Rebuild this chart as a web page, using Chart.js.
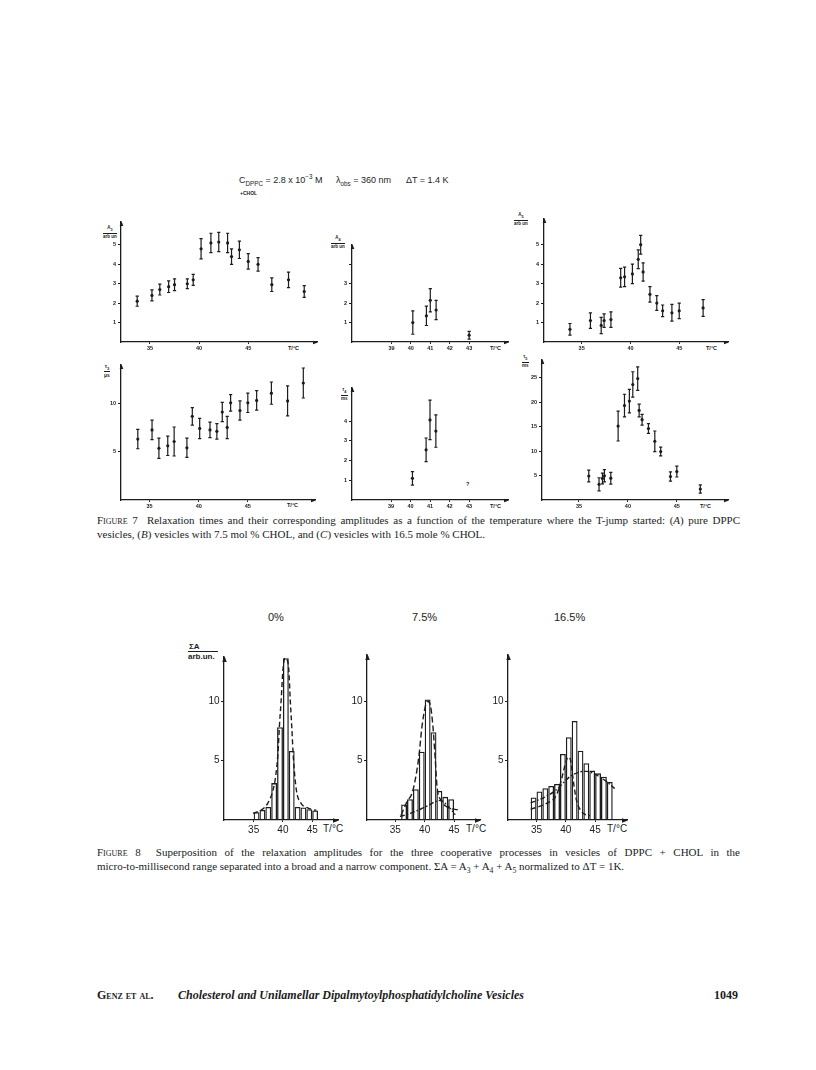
<!DOCTYPE html>
<html>
<head>
<meta charset="utf-8">
<title>Genz et al. - Figures 7 and 8</title>
<script src="https://cdn.jsdelivr.net/npm/chart.js@4.4.1/dist/chart.umd.min.js"></script>
<style>
  html, body { margin: 0; padding: 0; background: #fff; }
  body { position: relative; width: 816px; height: 1070px; overflow: hidden; color: #1c1c1c;
         font-family: "Liberation Sans", Arial, sans-serif; }
  .t { position: absolute; white-space: nowrap; line-height: 1; }
  .t sub, .t sup { font-size: 70%; line-height: 0; }
  canvas { position: absolute; }
  .frac { position: absolute; line-height: 1.05; font-weight: bold; text-align: center; }
  .frac .d { border-top: 1px solid #1c1c1c; padding-top: 1px; }
  .cap { position: absolute; left: 97px; width: 643px; line-height: 1;
         font-family: "Liberation Serif", "Times New Roman", serif; font-size: 11px; white-space: nowrap; }
  .cap.j { text-align: justify; text-align-last: justify; white-space: normal; }
  .sc { font-variant: small-caps; }
  .foot { position: absolute; top: 988px; font-family: "Liberation Serif", serif; font-weight: bold; font-size: 12px; white-space: nowrap; }
</style>
</head>
<body>

<!-- Figure 7 header -->
<div class="t" style="left:239px;top:176px;font-size:9px">C<sub>DPPC</sub> = 2.8 x 10<sup>−3</sup> M</div>
<div class="t" style="left:336px;top:176px;font-size:9px">λ<sub>obs</sub> = 360 nm</div>
<div class="t" style="left:406px;top:176px;font-size:9px">ΔT = 1.4 K</div>
<div class="t" style="left:240px;top:191px;font-size:5px;font-weight:bold">+CHOL</div>

<!-- axis labels, figure 7 -->
<div class="frac" style="left:103px;top:226px;font-size:4.5px"><div>A<sub>3</sub></div><div class="d">arb un</div></div>
<div class="frac" style="left:331px;top:236px;font-size:4.5px"><div>A<sub>4</sub></div><div class="d">arb un</div></div>
<div class="frac" style="left:514px;top:213px;font-size:4.5px"><div>A<sub>5</sub></div><div class="d">arb un</div></div>
<div class="frac" style="left:104px;top:364px;font-size:5px"><div>τ<sub>3</sub></div><div class="d">μs</div></div>
<div class="frac" style="left:341px;top:388px;font-size:4.5px"><div>τ<sub>4</sub></div><div class="d">ms</div></div>
<div class="frac" style="left:522px;top:355px;font-size:4.5px"><div>τ<sub>5</sub></div><div class="d">ms</div></div>

<div class="t" style="left:288px;top:346px;font-size:5.5px;font-weight:bold">T/°C</div>
<div class="t" style="left:490px;top:346px;font-size:5.5px;font-weight:bold">T/°C</div>
<div class="t" style="left:706px;top:346px;font-size:5.5px;font-weight:bold">T/°C</div>
<div class="t" style="left:287px;top:503px;font-size:5.5px;font-weight:bold">T/°C</div>
<div class="t" style="left:490px;top:504px;font-size:5.5px;font-weight:bold">T/°C</div>
<div class="t" style="left:700px;top:504px;font-size:5.5px;font-weight:bold">T/°C</div>
<div class="t" style="left:466px;top:482px;font-size:5.5px;font-weight:bold">?</div>

<canvas id="cA3"></canvas>
<canvas id="cA4"></canvas>
<canvas id="cA5"></canvas>
<canvas id="cT3"></canvas>
<canvas id="cT4"></canvas>
<canvas id="cT5"></canvas>

<div class="cap j" style="top:515px"><span class="sc">Figure 7</span>&nbsp; Relaxation times and their corresponding amplitudes as a function of the temperature where the T-jump started: (<i>A</i>) pure DPPC</div>
<div class="cap" style="top:529px">vesicles, (<i>B</i>) vesicles with 7.5 mol % CHOL, and (<i>C</i>) vesicles with 16.5 mole % CHOL.</div>

<!-- Figure 8 -->
<div class="t" style="left:268px;top:612px;font-size:11px">0%</div>
<div class="t" style="left:412px;top:612px;font-size:11px">7.5%</div>
<div class="t" style="left:554px;top:612px;font-size:11px">16.5%</div>
<div class="frac" style="left:188px;top:643px;font-size:8px;text-align:left"><div style="padding-left:1px">ΣA</div><div class="d" style="padding-right:3px">arb.un.</div></div>
<div class="t" style="left:323px;top:824px;font-size:10px">T/°C</div>
<div class="t" style="left:466px;top:824px;font-size:10px">T/°C</div>
<div class="t" style="left:607px;top:824px;font-size:10px">T/°C</div>

<canvas id="cS0"></canvas>
<canvas id="cS7"></canvas>
<canvas id="cS16"></canvas>

<div class="cap j" style="top:847px"><span class="sc">Figure 8</span>&nbsp; Superposition of the relaxation amplitudes for the three cooperative processes in vesicles of DPPC + CHOL in the</div>
<div class="cap" style="top:861px">micro-to-millisecond range separated into a broad and a narrow component. ΣA = A<sub style="font-size:70%">3</sub> + A<sub style="font-size:70%">4</sub> + A<sub style="font-size:70%">5</sub> normalized to ΔT = 1K.</div>

<div class="foot" style="left:97px"><span class="sc">Genz et al.</span></div>
<div class="foot" style="left:178px;font-style:italic">Cholesterol and Unilamellar Dipalmytoylphosphatidylcholine Vesicles</div>
<div class="foot" style="left:714px">1049</div>

<script>
const INK = '#1c1c1c';

// ---- Figure 7 (A): pure DPPC ----
const a3Temp = [33.7, 35.2, 36.0, 36.9, 37.5, 38.8, 39.4, 40.2, 41.2, 42.0, 42.9, 43.3, 44.1, 45.0, 46.0, 47.4, 49.1, 50.7];
const a3Amp  = [2.1, 2.4, 2.7, 2.85, 2.95, 3.0, 3.2, 4.8, 5.1, 5.15, 5.1, 4.4, 4.75, 4.15, 4.0, 2.95, 3.2, 2.6];
const a3Err  = [0.26, 0.28, 0.28, 0.3, 0.3, 0.25, 0.28, 0.52, 0.5, 0.5, 0.5, 0.4, 0.45, 0.4, 0.35, 0.35, 0.4, 0.3];

const t3Temp = [33.8, 35.25, 35.95, 36.85, 37.5, 38.8, 39.35, 40.1, 41.15, 41.85, 42.4, 42.9, 43.25, 44.2, 45.0, 45.9, 47.4, 49.05, 50.65];
const t3Time = [6.3, 7.25, 5.35, 5.6, 6.05, 5.4, 8.65, 7.4, 7.25, 7.1, 9.1, 7.5, 10.05, 9.25, 10.05, 10.3, 11.05, 10.25, 12.1];
const t3Err  = [1.0, 1.0, 1.05, 1.0, 1.5, 1.0, 0.9, 1.05, 0.8, 0.8, 1.0, 1.15, 0.85, 1.0, 1.0, 1.0, 1.15, 1.55, 1.55];

// ---- Figure 7 (B): 7.5 mol % CHOL ----
const a4Temp = [40.1, 40.8, 41.0, 41.3, 43.0];
const a4Amp  = [1.0, 1.35, 2.15, 1.65, 0.35];
const a4Err  = [0.6, 0.5, 0.6, 0.5, 0.2];

const t4Temp = [40.1, 40.8, 41.0, 41.3];
const t4Time = [1.1, 2.55, 4.07, 3.5];
const t4Err  = [0.34, 0.6, 1.0, 0.82];

// ---- Figure 7 (C): 16.5 mol % CHOL ----
const a5Temp = [33.8, 35.9, 37.0, 37.3, 38.0, 39.0, 39.4, 40.2, 40.8, 41.05, 41.3, 42.0, 42.7, 43.3, 44.25, 45.0, 47.45];
const a5Amp  = [0.65, 1.1, 0.85, 1.1, 1.15, 3.3, 3.35, 3.5, 4.25, 5.0, 3.6, 2.45, 2.0, 1.6, 1.5, 1.6, 1.75];
const a5Err  = [0.3, 0.4, 0.42, 0.35, 0.4, 0.48, 0.5, 0.5, 0.48, 0.48, 0.47, 0.4, 0.38, 0.3, 0.43, 0.4, 0.43];

const t5Temp = [36.0, 37.05, 37.4, 37.6, 38.25, 39.0, 39.65, 40.15, 40.5, 41.0, 41.15, 41.45, 42.1, 42.75, 43.35, 44.35, 45.0, 47.4];
const t5Time = [4.9, 3.2, 4.4, 4.95, 4.45, 15.1, 19.3, 20.2, 23.6, 24.8, 18.3, 16.4, 14.6, 12.0, 9.9, 4.8, 5.8, 2.25];
const t5Err  = [1.2, 1.35, 1.1, 1.25, 1.2, 3.05, 2.3, 2.4, 2.6, 2.4, 1.3, 1.1, 1.0, 2.1, 0.9, 0.95, 1.1, 0.85];

// ---- Figure 8: summed amplitudes, 1 K bins (left edges) ----
const sum0Edges   = [35, 36, 37, 38, 39, 40, 41, 42, 43, 44, 45];
const sum0Heights = [0.65, 0.85, 1.1, 3.1, 7.8, 13.6, 5.8, 1.1, 1.05, 0.9, 0.8];
const sum7Edges   = [36, 37, 38, 39, 40, 41, 42, 43, 44];
const sum7Heights = [1.3, 1.75, 2.6, 5.75, 10.15, 7.4, 2.45, 1.95, 1.75];
const sum16Edges   = [34, 35, 36, 37, 38, 39, 40, 41, 42, 43, 44, 45, 46, 47];
const sum16Heights = [1.9, 2.4, 2.67, 2.87, 3.03, 5.56, 6.97, 8.34, 5.84, 4.78, 4.16, 3.93, 3.65, 3.2];

// fitted components
const narrow0Temp = [34.9, 36.3, 37.4, 38.3, 38.75, 39.15, 39.4, 39.7, 40.0, 40.35, 40.7, 41.0, 41.25, 41.5, 41.8, 42.3, 43.1, 44.3, 45.7];
const narrow0Val  = [0.56, 0.84, 1.4, 2.5, 3.65, 5.6, 7.9, 10.1, 12.6, 13.6, 13.5, 12.6, 10.1, 7.9, 5.1, 2.5, 1.4, 1.0, 0.8];
const narrow7Temp = [36.0, 37.0, 37.85, 38.4, 39.0, 39.55, 40.1, 40.5, 40.95, 41.4, 41.8, 42.1, 42.7, 43.8, 45.8];
const narrow7Val  = [0.4, 1.55, 2.25, 3.4, 5.3, 7.9, 9.55, 10.0, 9.7, 7.9, 5.05, 2.8, 1.7, 1.1, 0.84];
const broad7Temp  = [35.8, 37.5, 39.0, 40.5, 41.8, 42.7, 43.8, 45.2];
const broad7Val   = [0.3, 0.55, 0.85, 1.2, 1.55, 1.65, 1.25, 0.45];
const narrow16Temp = [34.0, 36.7, 38.4, 39.25, 39.85, 40.4, 40.8, 41.25, 41.8, 42.7, 44.1];
const narrow16Val  = [0.9, 1.4, 2.1, 3.4, 4.6, 5.3, 5.05, 3.4, 1.7, 0.7, 0.35];
const broad16Temp  = [34.0, 36.1, 38.4, 40.7, 42.4, 43.5, 45.2, 46.9, 48.35];
const broad16Val   = [1.45, 1.85, 2.55, 3.65, 4.05, 4.1, 3.8, 3.25, 2.65];

// tick values
const wideTempTicks = [35, 40, 45];
const narrowTempTicks = [39, 40, 41, 42, 43];
const ampTicks = [1, 2, 3, 4, 5];
const a4AmpTicks = [1, 2, 3, 4];
const a4AmpLabels = ['1', '2', '3', ''];
const t3Ticks = [5, 10];
const t4Ticks = [1, 2, 3, 4];
const t5Ticks = [5, 10, 15, 20, 25];
const sumTicks = [5, 10];

// --- helpers ---
const pts = (xs, ys) => xs.map((x, i) => ({ x: x, y: ys[i] }));

const arrowHeads = {
  id: 'arrowHeads',
  afterDraw(chart, args, opts) {
    const a = chart.chartArea, ctx = chart.ctx, s = opts.size || 4;
    ctx.save();
    ctx.fillStyle = INK;
    ctx.beginPath();
    ctx.moveTo(a.left + 0.5, a.top - 1);
    ctx.lineTo(a.left + 0.5 - s * 0.45, a.top + s);
    ctx.lineTo(a.left + 0.5 + s * 0.45, a.top + s);
    ctx.fill();
    ctx.beginPath();
    ctx.moveTo(a.right + 1, a.bottom + 0.5);
    ctx.lineTo(a.right - s, a.bottom + 0.5 - s * 0.45);
    ctx.lineTo(a.right - s, a.bottom + 0.5 + s * 0.45);
    ctx.fill();
    ctx.restore();
  }
};

const errorBars = {
  id: 'errorBars',
  afterDatasetsDraw(chart) {
    const ctx = chart.ctx, xs = chart.scales.x, ys = chart.scales.y;
    chart.data.datasets.forEach(ds => {
      if (!ds.errs) return;
      ctx.save();
      ctx.strokeStyle = INK;
      ctx.lineWidth = 1.2;
      ds.data.forEach((p, i) => {
        const x = xs.getPixelForValue(p.x), e = ds.errs[i];
        const y1 = ys.getPixelForValue(p.y + e), y2 = ys.getPixelForValue(p.y - e);
        ctx.beginPath();
        ctx.moveTo(x, y1); ctx.lineTo(x, y2);
        ctx.moveTo(x - 1.6, y1); ctx.lineTo(x + 1.6, y1);
        ctx.moveTo(x - 1.6, y2); ctx.lineTo(x + 1.6, y2);
        ctx.stroke();
      });
      ctx.restore();
    });
  }
};

function errSeries(xs, ys, es) {
  return { type: 'scatter', data: pts(xs, ys), errs: es, pointRadius: 1.6,
           pointBackgroundColor: INK, pointBorderWidth: 0, showLine: false };
}
function histSeries(edges, heights) {
  return { type: 'bar', data: edges.map((e, i) => ({ x: e + 0.5, y: heights[i] })),
           backgroundColor: 'rgba(255,255,255,0)', borderColor: INK, borderWidth: 1.3, inflateAmount: 0,
           barPercentage: 1, categoryPercentage: 1, order: 2 };
}
function curveSeries(xs, ys, dash) {
  return { type: 'line', data: pts(xs, ys), borderColor: INK, borderWidth: 1.4, borderDash: dash,
           pointRadius: 0, fill: false, cubicInterpolationMode: 'monotone', order: 1 };
}

function drawPanel(id, g, datasets, o) {
  const L = o.padL, T = 6, R = 6, B = o.padB;
  const w = g.xEnd - g.x0 + L + R, h = g.y0 - g.yTop + T + B;
  const cv = document.getElementById(id);
  cv.style.left = (g.x0 - L) + 'px';
  cv.style.top = (g.yTop - T) + 'px';
  cv.width = w; cv.height = h;
  cv.style.width = w + 'px'; cv.style.height = h + 'px';
  const font = { family: 'Liberation Sans', size: o.font, weight: o.bold ? 'bold' : 'normal' };
  return new Chart(cv, {
    type: o.type,
    data: { datasets: datasets },
    options: {
      responsive: false, animation: false, devicePixelRatio: 1,
      layout: { padding: { left: 0, top: T, right: R, bottom: 0 } },
      plugins: { legend: { display: false }, tooltip: { enabled: false }, arrowHeads: { size: o.arrow } },
      scales: {
        x: {
          type: 'linear', min: g.xMin, max: g.xMax, offset: false,
          afterBuildTicks: s => { s.ticks = o.xTicks.map(v => ({ value: v })); },
          afterFit: s => { s.height = B; s.paddingLeft = 0; s.paddingRight = 0; },
          grid: { display: true, drawOnChartArea: false, tickLength: o.xTickLen, color: INK, lineWidth: 1, offset: false },
          border: { display: true, color: INK, width: o.axisW },
          ticks: { color: INK, font: font, padding: o.xPad, maxRotation: 0, autoSkip: false,
                   callback: v => String(v) }
        },
        y: {
          type: 'linear', min: 0, max: g.yMax,
          afterBuildTicks: s => { s.ticks = o.yTicks.map(v => ({ value: v })); },
          afterFit: s => { s.width = L; s.paddingTop = 0; s.paddingBottom = 0; },
          grid: { display: true, drawOnChartArea: false, tickLength: 3, color: INK, lineWidth: 1 },
          border: { display: true, color: INK, width: o.axisW },
          ticks: { color: INK, font: font, padding: o.yPad, autoSkip: false,
                   callback: (v, i) => o.yLabels ? o.yLabels[i] : String(v) }
        }
      }
    },
    plugins: [arrowHeads, errorBars]
  });
}

const fig7Opts = { type: 'scatter', padL: 20, padB: 14, font: 5.5, bold: true, xTickLen: 2, xPad: 1.5, yPad: 2, axisW: 1.3, arrow: 4 };
const fig8Opts = { type: 'bar', padL: 28, padB: 18, font: 10, bold: false, xTickLen: 2, xPad: 2, yPad: 1.5, axisW: 1.3, arrow: 5, yTicks: sumTicks, xTicks: wideTempTicks };

// Figure 7 panels
drawPanel('cA3', { x0: 121, y0: 342, xEnd: 317, yTop: 222, xMin: 32.05, xMax: 52.0, yMax: 6.18 },
  [errSeries(a3Temp, a3Amp, a3Err)], Object.assign({}, fig7Opts, { xTicks: wideTempTicks, yTicks: ampTicks }));
drawPanel('cA4', { x0: 352, y0: 342, xEnd: 508, yTop: 245, xMin: 36.97, xMax: 45.0, yMax: 5.0 },
  [errSeries(a4Temp, a4Amp, a4Err)], Object.assign({}, fig7Opts, { xTicks: narrowTempTicks, yTicks: a4AmpTicks, yLabels: a4AmpLabels }));
drawPanel('cA5', { x0: 544, y0: 342, xEnd: 728, yTop: 219, xMin: 31.14, xMax: 50.0, yMax: 6.32 },
  [errSeries(a5Temp, a5Amp, a5Err)], Object.assign({}, fig7Opts, { xTicks: wideTempTicks, yTicks: ampTicks }));
drawPanel('cT3', { x0: 121, y0: 500, xEnd: 315, yTop: 365, xMin: 32.09, xMax: 51.84, yMax: 13.96 },
  [errSeries(t3Temp, t3Time, t3Err)], Object.assign({}, fig7Opts, { xTicks: wideTempTicks, yTicks: t3Ticks }));
drawPanel('cT4', { x0: 352, y0: 500, xEnd: 508, yTop: 388, xMin: 37.0, xMax: 45.0, yMax: 5.69 },
  [errSeries(t4Temp, t4Time, t4Err)], Object.assign({}, fig7Opts, { xTicks: narrowTempTicks, yTicks: t4Ticks }));
drawPanel('cT5', { x0: 542, y0: 500, xEnd: 728, yTop: 360, xMin: 31.22, xMax: 50.23, yMax: 28.6 },
  [errSeries(t5Temp, t5Time, t5Err)], Object.assign({}, fig7Opts, { xTicks: wideTempTicks, yTicks: t5Ticks }));

// Figure 8 panels
drawPanel('cS0', { x0: 224, y0: 820, xEnd: 338, yTop: 657, xMin: 29.94, xMax: 49.4, yMax: 13.7 },
  [histSeries(sum0Edges, sum0Heights), curveSeries(narrow0Temp, narrow0Val, [5, 3])], fig8Opts);
drawPanel('cS7', { x0: 367, y0: 820, xEnd: 480, yTop: 655, xMin: 30.2, xMax: 49.4, yMax: 13.9 },
  [histSeries(sum7Edges, sum7Heights), curveSeries(narrow7Temp, narrow7Val, [6, 3]), curveSeries(broad7Temp, broad7Val, [5, 2, 1.5, 2])], fig8Opts);
drawPanel('cS16', { x0: 508, y0: 820, xEnd: 627, yTop: 655, xMin: 30.13, xMax: 50.44, yMax: 13.9 },
  [histSeries(sum16Edges, sum16Heights), curveSeries(narrow16Temp, narrow16Val, [5, 3]), curveSeries(broad16Temp, broad16Val, [5, 2, 1.5, 2])], fig8Opts);
</script>
</body>
</html>
